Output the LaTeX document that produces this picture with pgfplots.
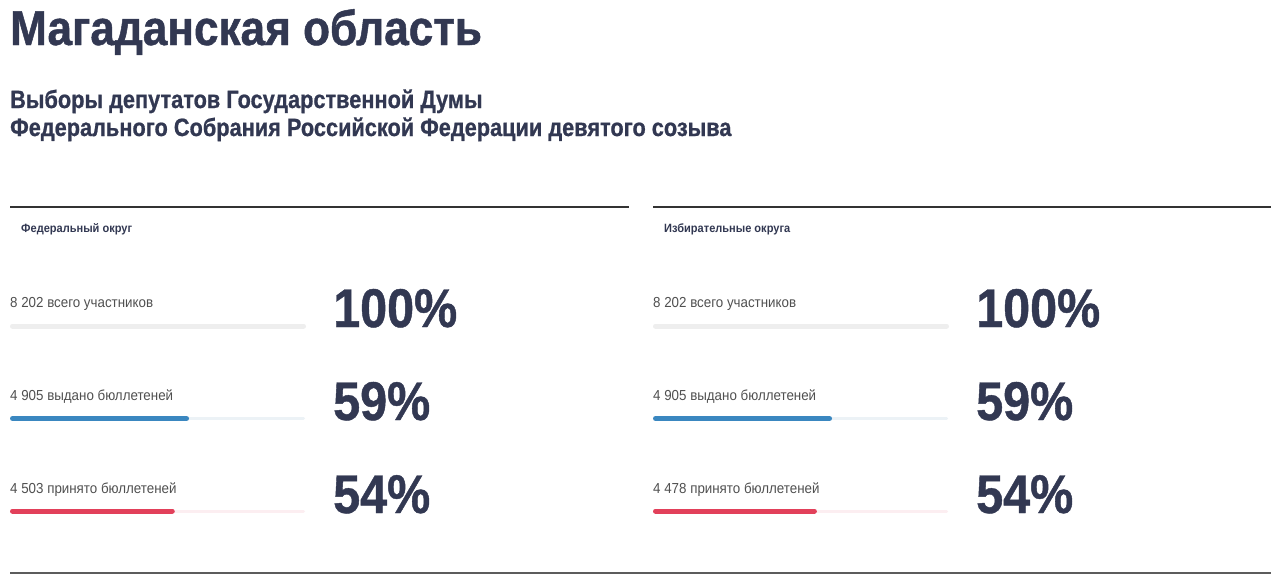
\documentclass[border=0pt]{standalone}
\usepackage{pgfplots}
\pgfplotsset{compat=1.18}
\usepackage{fontspec}
\setmainfont{Liberation Sans}
\newfontfamily\titlefam[FakeStretch=0.90, FakeBold=1]{Liberation Sans}
\newfontfamily\subfam[FakeStretch=0.87, FakeBold=0.8]{Liberation Sans}
\newfontfamily\headfam[FakeStretch=0.92]{Liberation Sans}
\newfontfamily\condreg[FakeStretch=0.92]{Liberation Sans}
\newfontfamily\pctfam[FakeStretch=0.89, FakeBold=0.8]{Liberation Sans}
\newcommand\pctfont{\pctfam\bfseries}
\definecolor{navy}{RGB}{50,56,82}
\definecolor{lbl}{RGB}{80,80,80}
\definecolor{barblue}{RGB}{58,135,192}
\definecolor{barred}{RGB}{226,64,90}
\definecolor{trackgrey}{RGB}{238,238,238}
\definecolor{trackblue}{RGB}{236,242,246}
\definecolor{trackred}{RGB}{252,238,241}
\definecolor{rule}{RGB}{51,51,51}
\pgfplotsset{panel/.style={anchor=north west, width=291pt, height=185pt, scale only axis,
  xmin=0, xmax=100, ymin=1, ymax=3, y dir=reverse, hide axis, clip=false}}
\begin{document}
\begin{tikzpicture}[x=1pt,y=1pt]
\path[use as bounding box, fill=white] (0,0) rectangle (1280,-579);
% titles
\node[anchor=base west, inner sep=0, text=navy] at (10,-45) {\fontsize{49}{55}\titlefam\bfseries Магаданская область};
\node[anchor=base west, inner sep=0, text=navy] at (10,-108) {\fontsize{25}{30}\subfam\bfseries Выборы депутатов Государственной Думы};
\node[anchor=base west, inner sep=0, text=navy] at (10,-136) {\fontsize{25}{30}\subfam\bfseries Федерального Собрания Российской Федерации девятого созыва};
% rules
\draw[rule, line width=1.5pt] (10,-207) -- (629,-207);
\draw[rule, line width=1.5pt] (653,-207) -- (1271,-207);
\draw[rule!80, line width=1.5pt] (10,-573) -- (1271,-573);
% headers
\node[anchor=base west, inner sep=0, text=navy] at (21,-232) {\fontsize{12}{14}\headfam\bfseries Федеральный округ};
\node[anchor=base west, inner sep=0, text=navy] at (664,-232) {\fontsize{12}{14}\headfam\bfseries Избирательные округа};
% panel texts
\foreach \dx/\a/\b/\c in {0/8 202/4 905/4 503, 643/8 202/4 905/4 478}{
  \node[anchor=base west, inner sep=0, text=lbl] at (10+\dx,-307) {\fontsize{14.5}{16}\condreg \a\ всего участников};
  \node[anchor=base west, inner sep=0, text=lbl] at (10+\dx,-400) {\fontsize{14.5}{16}\condreg \b\ выдано бюллетеней};
  \node[anchor=base west, inner sep=0, text=lbl] at (10+\dx,-493) {\fontsize{14.5}{16}\condreg \c\ принято бюллетеней};
  \node[anchor=base west, inner sep=0, text=navy] at (333+\dx,-327) {\fontsize{54.5}{60}\pctfont 100\%};
  \node[anchor=base west, inner sep=0, text=navy] at (333+\dx,-420) {\fontsize{54.5}{60}\pctfont 59\%};
  \node[anchor=base west, inner sep=0, text=navy] at (333+\dx,-513) {\fontsize{54.5}{60}\pctfont 54\%};
}
% left panel bars
\begin{axis}[panel, at={(12.5pt,-326pt)}]
\addplot[trackgrey, line width=5pt, line cap=round] coordinates {(0,1) (100,1)};
\addplot[trackblue, line width=3pt, line cap=round] coordinates {(0,2) (100,2)};
\addplot[trackred, line width=3pt, line cap=round] coordinates {(0,3) (100,3)};
\addplot[barblue, line width=5pt, line cap=round] coordinates {(0,2) (59.80,2)};
\addplot[barred, line width=5pt, line cap=round] coordinates {(0,3) (54.90,3)};
\end{axis}
% right panel bars
\begin{axis}[panel, at={(655.5pt,-326pt)}]
\addplot[trackgrey, line width=5pt, line cap=round] coordinates {(0,1) (100,1)};
\addplot[trackblue, line width=3pt, line cap=round] coordinates {(0,2) (100,2)};
\addplot[trackred, line width=3pt, line cap=round] coordinates {(0,3) (100,3)};
\addplot[barblue, line width=5pt, line cap=round] coordinates {(0,2) (59.80,2)};
\addplot[barred, line width=5pt, line cap=round] coordinates {(0,3) (54.60,3)};
\end{axis}
\end{tikzpicture}
\end{document}
